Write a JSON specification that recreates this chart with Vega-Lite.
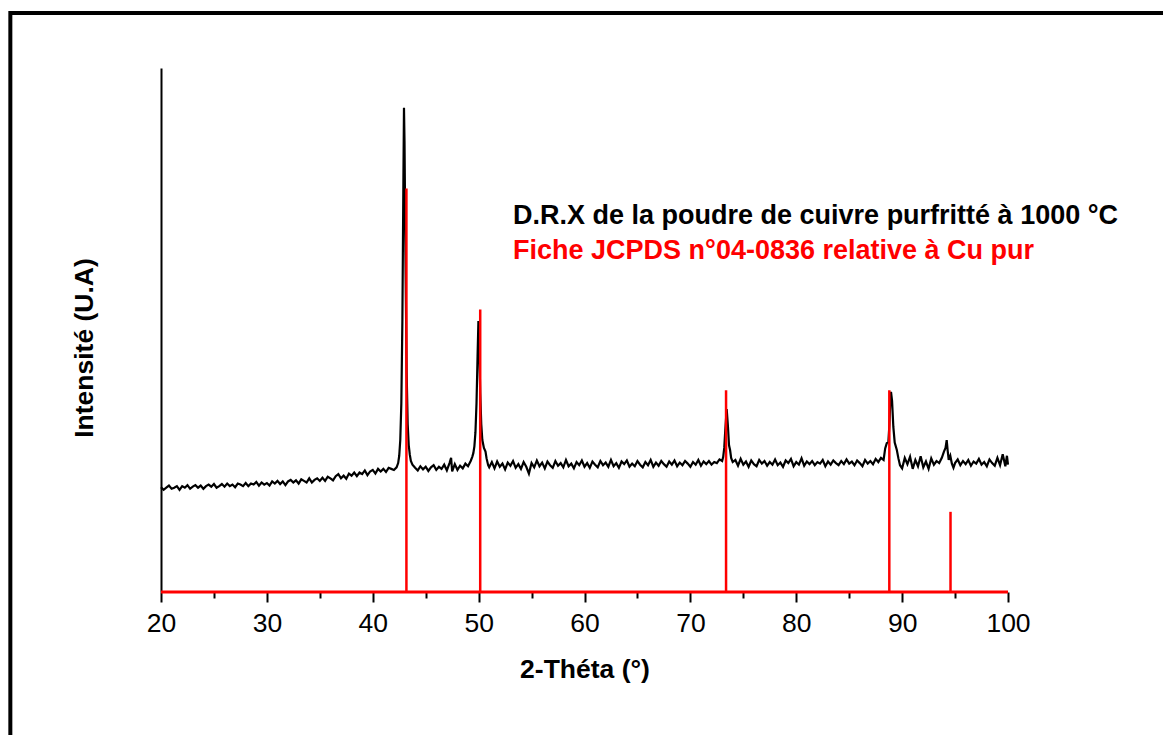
{
  "$schema": "https://vega.github.io/schema/vega-lite/v6.json",
  "width": 847,
  "height": 524,
  "autosize": "none",
  "padding": {"left": 161, "top": 68, "right": 155, "bottom": 143},
  "background": "white",
  "config": {
    "view": {"stroke": null},
    "font": "Liberation Sans",
    "axis": {"grid": false, "labelFont": "Liberation Sans", "titleFont": "Liberation Sans"}
  },
  "datasets": {
    "xrd": [
      {"t":20,"i":20.0},{"t":20.25,"i":19.5},{"t":20.5,"i":19.9},{"t":20.75,"i":20.3},{"t":21,"i":19.7},{"t":21.25,"i":19.9},{"t":21.5,"i":20.2},{"t":21.75,"i":19.5},{"t":22,"i":20.2},{"t":22.25,"i":19.9},{"t":22.5,"i":20.4},{"t":22.75,"i":19.7},{"t":23,"i":20.1},{"t":23.25,"i":20.4},{"t":23.5,"i":19.9},{"t":23.75,"i":20.3},{"t":24,"i":19.7},{"t":24.25,"i":20.2},{"t":24.5,"i":20.5},{"t":24.75,"i":20.1},{"t":25,"i":20.6},{"t":25.25,"i":19.9},{"t":25.5,"i":20.2},{"t":25.75,"i":20.6},{"t":26,"i":20.1},{"t":26.25,"i":20.7},{"t":26.5,"i":20.2},{"t":26.75,"i":20.5},{"t":27,"i":20.0},{"t":27.25,"i":20.7},{"t":27.5,"i":20.5},{"t":27.75,"i":20.2},{"t":28,"i":20.8},{"t":28.25,"i":20.2},{"t":28.5,"i":20.7},{"t":28.75,"i":20.5},{"t":29,"i":21.0},{"t":29.25,"i":20.3},{"t":29.5,"i":20.9},{"t":29.75,"i":20.5},{"t":30,"i":20.8},
      {"t":30.25,"i":20.3},{"t":30.5,"i":21.1},{"t":30.75,"i":20.7},{"t":31,"i":21.2},{"t":31.25,"i":20.6},{"t":31.5,"i":21.1},{"t":31.75,"i":20.4},{"t":32,"i":21.1},{"t":32.25,"i":21.4},{"t":32.5,"i":20.9},{"t":32.75,"i":21.3},{"t":33,"i":20.7},{"t":33.25,"i":21.5},{"t":33.5,"i":21.2},{"t":33.75,"i":20.9},{"t":34,"i":21.7},{"t":34.25,"i":20.9},{"t":34.5,"i":21.4},{"t":34.75,"i":21.7},{"t":35,"i":21.2},
      {"t":35.25,"i":21.8},{"t":35.5,"i":21.2},{"t":35.75,"i":22.0},{"t":36,"i":21.7},{"t":36.25,"i":21.3},{"t":36.5,"i":22.1},{"t":36.75,"i":22.5},{"t":37,"i":21.7},{"t":37.25,"i":22.2},{"t":37.5,"i":21.6},{"t":37.75,"i":22.6},{"t":38,"i":22.2},{"t":38.25,"i":22.8},{"t":38.5,"i":22.1},{"t":38.75,"i":22.8},{"t":39,"i":22.5},{"t":39.25,"i":23.2},{"t":39.5,"i":22.3},{"t":39.75,"i":23.0},{"t":40,"i":23.3},{"t":40.25,"i":22.6},{"t":40.5,"i":23.5},{"t":40.75,"i":23.0},{"t":41,"i":23.5},{"t":41.25,"i":22.9},{"t":41.5,"i":23.7},{"t":41.75,"i":23.5},{"t":42,"i":23.3},
      {"t":42.25,"i":23.8},{"t":42.4,"i":24.6},{"t":42.5,"i":26.0},{"t":42.6,"i":29.0},{"t":42.7,"i":36},{"t":42.8,"i":52},{"t":42.9,"i":80},{"t":42.95,"i":92.4},{"t":43.0,"i":86},{"t":43.1,"i":62},{"t":43.2,"i":42},{"t":43.3,"i":32},{"t":43.4,"i":28},{"t":43.5,"i":26.2},{"t":43.6,"i":25.0},{"t":43.75,"i":24.3},{"t":44,"i":23.7},
      {"t":44.25,"i":23.2},{"t":44.5,"i":24.0},{"t":44.75,"i":23.4},{"t":45,"i":23.9},{"t":45.25,"i":23.1},{"t":45.5,"i":23.8},{"t":45.75,"i":24.2},{"t":46,"i":23.3},{"t":46.25,"i":23.9},{"t":46.5,"i":23.5},{"t":46.75,"i":24.3},{"t":47,"i":23.2},{"t":47.25,"i":24.6},{"t":47.4,"i":25.6},{"t":47.5,"i":23.0},{"t":47.75,"i":24.4},{"t":48,"i":23.3},{"t":48.25,"i":24.1},{"t":48.5,"i":23.6},{"t":48.75,"i":24.5},{"t":49,"i":24.0},
      {"t":49.25,"i":25.0},{"t":49.4,"i":25.8},{"t":49.5,"i":26.5},{"t":49.6,"i":27.8},{"t":49.7,"i":30.5},{"t":49.8,"i":36},{"t":49.9,"i":45},{"t":49.98,"i":51.7},{"t":50.05,"i":48},{"t":50.15,"i":38},{"t":50.25,"i":32},{"t":50.35,"i":29},{"t":50.5,"i":27.5},{"t":50.65,"i":26.8},{"t":50.75,"i":25.5},{"t":50.9,"i":24.2},{"t":51,"i":23.8},
      {"t":51.25,"i":24.8},{"t":51.5,"i":23.6},{"t":51.75,"i":24.9},{"t":52,"i":23.9},{"t":52.25,"i":24.5},{"t":52.5,"i":23.4},{"t":52.75,"i":24.7},{"t":53,"i":24.1},{"t":53.25,"i":25.0},{"t":53.5,"i":23.7},{"t":53.75,"i":24.4},{"t":54,"i":23.5},{"t":54.25,"i":24.8},{"t":54.5,"i":23.9},{"t":54.75,"i":22.6},{"t":55,"i":24.6},{"t":55.25,"i":23.8},{"t":55.5,"i":25.1},{"t":55.75,"i":24.0},{"t":56,"i":24.7},{"t":56.25,"i":23.6},{"t":56.5,"i":24.9},{"t":56.75,"i":24.2},{"t":57,"i":23.7},{"t":57.25,"i":25.0},{"t":57.5,"i":24.1},{"t":57.75,"i":24.6},{"t":58,"i":23.8},{"t":58.25,"i":25.2},{"t":58.5,"i":24.0},{"t":58.75,"i":24.5},{"t":59,"i":23.6},{"t":59.25,"i":24.8},{"t":59.5,"i":24.2},{"t":59.75,"i":25.1},{"t":60,"i":23.9},{"t":60.25,"i":24.6},{"t":60.5,"i":23.7},{"t":60.75,"i":24.9},{"t":61,"i":24.3},{"t":61.25,"i":23.8},{"t":61.5,"i":25.0},{"t":61.75,"i":24.2},{"t":62,"i":24.7},{"t":62.25,"i":23.9},{"t":62.5,"i":25.2},{"t":62.75,"i":24.0},{"t":63,"i":24.6},{"t":63.25,"i":23.7},{"t":63.5,"i":24.9},{"t":63.75,"i":24.4},{"t":64,"i":25.1},{"t":64.25,"i":23.9},{"t":64.5,"i":24.5},{"t":64.75,"i":24.0},{"t":65,"i":25.0},{"t":65.25,"i":24.3},{"t":65.5,"i":23.8},{"t":65.75,"i":24.8},{"t":66,"i":24.2},{"t":66.25,"i":25.2},{"t":66.5,"i":23.9},{"t":66.75,"i":24.7},{"t":67,"i":24.1},{"t":67.25,"i":25.0},{"t":67.5,"i":24.4},{"t":67.75,"i":23.9},{"t":68,"i":24.9},{"t":68.25,"i":24.3},{"t":68.5,"i":25.1},{"t":68.75,"i":24.0},{"t":69,"i":24.7},{"t":69.25,"i":24.2},{"t":69.5,"i":25.0},{"t":69.75,"i":24.5},{"t":70,"i":23.9},{"t":70.25,"i":24.8},{"t":70.5,"i":24.3},{"t":70.75,"i":25.2},{"t":71,"i":24.1},{"t":71.25,"i":24.9},{"t":71.5,"i":24.4},{"t":71.75,"i":25.0},{"t":72,"i":24.3},{"t":72.25,"i":24.8},{"t":72.5,"i":24.6},{"t":72.75,"i":25.3},{"t":73,"i":25.0},
      {"t":73.1,"i":25.8},{"t":73.2,"i":27.5},{"t":73.3,"i":31},{"t":73.43,"i":34.9},{"t":73.55,"i":31.5},{"t":73.65,"i":28},{"t":73.75,"i":27.1},{"t":73.85,"i":25.6},{"t":74,"i":24.8},
      {"t":74.25,"i":25.2},{"t":74.5,"i":24.1},{"t":74.75,"i":25.4},{"t":75,"i":24.3},{"t":75.25,"i":24.9},{"t":75.5,"i":23.9},{"t":75.75,"i":25.1},{"t":76,"i":24.4},{"t":76.25,"i":24.0},{"t":76.5,"i":25.2},{"t":76.75,"i":24.5},{"t":77,"i":25.0},{"t":77.25,"i":24.1},{"t":77.5,"i":24.8},{"t":77.75,"i":24.3},{"t":78,"i":25.3},{"t":78.25,"i":24.2},{"t":78.5,"i":24.7},{"t":78.75,"i":23.9},{"t":79,"i":25.1},{"t":79.25,"i":24.6},{"t":79.5,"i":25.4},{"t":79.75,"i":24.0},{"t":80,"i":24.8},{"t":80.25,"i":24.3},{"t":80.5,"i":25.5},{"t":80.75,"i":24.1},{"t":81,"i":24.9},{"t":81.25,"i":24.4},{"t":81.5,"i":25.0},{"t":81.75,"i":24.2},{"t":82,"i":24.8},{"t":82.25,"i":24.5},{"t":82.5,"i":25.2},{"t":82.75,"i":24.0},{"t":83,"i":24.9},{"t":83.25,"i":24.3},{"t":83.5,"i":25.1},{"t":83.75,"i":24.6},{"t":84,"i":24.2},{"t":84.25,"i":25.0},{"t":84.5,"i":24.4},{"t":84.75,"i":25.3},{"t":85,"i":24.5},{"t":85.25,"i":24.9},{"t":85.5,"i":24.2},{"t":85.75,"i":25.1},{"t":86,"i":24.6},{"t":86.25,"i":24.0},{"t":86.5,"i":25.2},{"t":86.75,"i":24.5},{"t":87,"i":25.0},{"t":87.25,"i":24.4},{"t":87.5,"i":25.4},{"t":87.75,"i":24.8},{"t":88,"i":25.6},{"t":88.25,"i":25.2},
      {"t":88.4,"i":27.4},{"t":88.55,"i":28.4},{"t":88.7,"i":28.6},{"t":88.8,"i":32},{"t":88.9,"i":37.5},{"t":88.95,"i":38.2},{"t":89.05,"i":36.5},{"t":89.17,"i":31.5},{"t":89.3,"i":28.5},{"t":89.5,"i":27.1},{"t":89.65,"i":25.5},{"t":89.8,"i":24.2},{"t":90,"i":23.6},
      {"t":90.25,"i":25.6},{"t":90.5,"i":24.4},{"t":90.75,"i":25.8},{"t":91,"i":23.5},{"t":91.25,"i":25.2},{"t":91.5,"i":24.0},{"t":91.75,"i":25.9},{"t":92,"i":23.8},{"t":92.25,"i":24.9},{"t":92.5,"i":23.5},{"t":92.75,"i":25.5},{"t":93,"i":24.3},{"t":93.25,"i":25.0},{"t":93.5,"i":24.6},{"t":93.75,"i":25.6},{"t":93.95,"i":26.8},{"t":94.1,"i":27.5},{"t":94.21,"i":29.0},{"t":94.3,"i":27.0},{"t":94.4,"i":25.2},{"t":94.55,"i":26.0},{"t":94.7,"i":24.5},{"t":94.85,"i":23.7},{"t":95,"i":24.6},{"t":95.25,"i":25.3},{"t":95.5,"i":24.2},{"t":95.75,"i":25.0},{"t":96,"i":24.4},{"t":96.25,"i":25.2},{"t":96.5,"i":24.1},{"t":96.75,"i":24.9},{"t":97,"i":24.5},{"t":97.25,"i":25.4},{"t":97.5,"i":24.3},{"t":97.75,"i":24.8},{"t":98,"i":24.0},{"t":98.25,"i":25.3},{"t":98.5,"i":24.6},{"t":98.75,"i":24.1},{"t":99,"i":25.6},{"t":99.25,"i":24.2},{"t":99.5,"i":26.3},{"t":99.75,"i":24.0},{"t":99.9,"i":26.0},{"t":100,"i":24.3}
    ],
    "jcpds": [
      {"t":43.18,"h":77.0},{"t":50.15,"h":53.9},{"t":73.37,"h":38.5},{"t":88.79,"h":38.5},{"t":94.57,"h":15.3}
    ]
  },
  "layer": [
    {
      "data": {"values": [{}]},
      "mark": {"type": "rect", "fillOpacity": 0, "stroke": "black", "strokeWidth": 4, "clip": false},
      "encoding": {
        "x": {"datum": 5.77, "type": "quantitative"},
        "x2": {"datum": 116.3},
        "y": {"datum": 110.5, "type": "quantitative"},
        "y2": {"datum": -30.2}
      }
    },
    {
      "data": {"name": "xrd"},
      "mark": {"type": "line", "color": "black", "strokeWidth": 2.2},
      "encoding": {
        "x": {"field": "t", "type": "quantitative", "scale": {"domain": [20, 100], "nice": false, "zero": false, "padding": 0},
          "axis": {"orient": "bottom", "values": [20, 25, 30, 35, 40, 45, 50, 55, 60, 65, 70, 75, 80, 85, 90, 95, 100], "domain": false, "ticks": true, "tickColor": "black", "tickWidth": 2,
            "tickSize": {"condition": {"test": "datum.value % 10 === 0", "value": 10}, "value": 6},
            "labelExpr": "datum.value % 10 === 0 ? datum.label : ''",
            "labelFontSize": 26.5, "labelColor": "black", "labelBaseline": "alphabetic", "labelPadding": 29.5, "labelFlush": false, "labelOverlap": false,
            "title": "2-Théta (°)", "titleFontSize": 26.5, "titleFontWeight": "bold", "titleColor": "black", "titleBaseline": "alphabetic", "titleX": 423.5, "titleY": 85.5}},
        "y": {"field": "i", "type": "quantitative", "scale": {"domain": [0, 100], "nice": false, "zero": false},
          "axis": {"domain": true, "domainColor": "black", "domainWidth": 2, "ticks": false, "labels": false,
            "title": "Intensité (U.A)", "titleFontSize": 26.5, "titleFontWeight": "bold", "titleColor": "black", "titleBaseline": "alphabetic", "titleX": -68.5, "titleY": 279.5, "titleAngle": -90}}
      }
    },
    {
      "data": {"name": "jcpds"},
      "mark": {"type": "bar", "color": "#ff0000", "size": 2.5},
      "encoding": {
        "x": {"field": "t", "type": "quantitative"},
        "y": {"field": "h", "type": "quantitative"}
      }
    },
    {
      "data": {"values": [{"b": 0}]},
      "mark": {"type": "rule", "color": "#ff0000", "strokeWidth": 3},
      "encoding": {
        "y": {"field": "b", "type": "quantitative"}
      }
    },
    {
      "data": {"values": [{"s": "D.R.X de la poudre de cuivre purfritté à 1000 °C"}]},
      "mark": {"type": "text", "color": "black", "font": "Liberation Sans", "fontSize": 27, "fontWeight": "bold", "align": "left", "baseline": "alphabetic"},
      "encoding": {
        "text": {"field": "s", "type": "nominal"},
        "x": {"datum": 53.25, "type": "quantitative"},
        "y": {"datum": 70.3, "type": "quantitative"}
      }
    },
    {
      "data": {"values": [{"s": "Fiche JCPDS n°04-0836 relative à Cu pur"}]},
      "mark": {"type": "text", "color": "#ff0000", "font": "Liberation Sans", "fontSize": 27, "fontWeight": "bold", "align": "left", "baseline": "alphabetic"},
      "encoding": {
        "text": {"field": "s", "type": "nominal"},
        "x": {"datum": 53.25, "type": "quantitative"},
        "y": {"datum": 63.5, "type": "quantitative"}
      }
    }
  ]
}
